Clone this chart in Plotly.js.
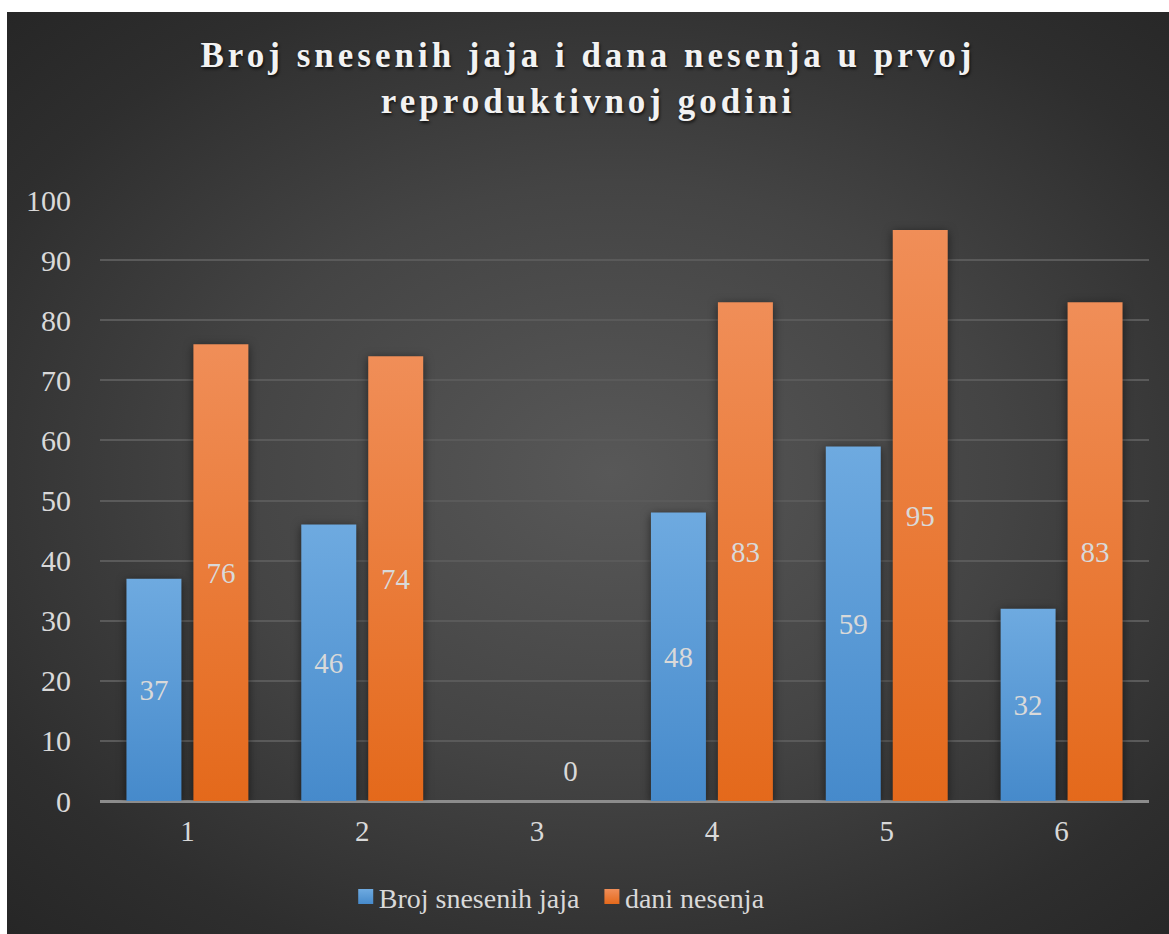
<!DOCTYPE html>
<html>
<head>
<meta charset="utf-8">
<script src="https://cdn.plot.ly/plotly-3.0.1.min.js"></script>
<style>
  html, body { margin: 0; padding: 0; background: #ffffff; }
  #chart {
    position: absolute; left: 7px; top: 12px; width: 1162px; height: 922px;
    background: radial-gradient(ellipse 75% 70% at 52% 50%, #585858 0%, #444444 45%, #2e2e2e 80%, #262626 100%);
  }
  #chart .gtitle { letter-spacing: 4px; }
  #chart .trace.bars .point path { filter: drop-shadow(0px 2px 5px rgba(0,0,0,0.55)); }
</style>
</head>
<body>
<div id="chart"></div>
<script>
const categories = ['1', '2', '3', '4', '5', '6'];
const eggsLaid = [37, 46, null, 48, 59, 32];
const layingDays = [76, 74, 0, 83, 95, 83];
const seriesNames = ['Broj snesenih jaja', 'dani nesenja'];
const chartTitle = 'Broj snesenih jaja i dana nesenja u prvoj<br>reproduktivnoj godini';

const serif = 'Liberation Serif';
const labelFont = {family: serif, size: 29, color: '#d9d9d9'};

const traces = [
  {
    type: 'bar', name: seriesNames[0], x: categories, y: eggsLaid,
    marker: {color: '#5a9ad8'},
    text: eggsLaid.map(v => v === null ? '' : String(v)),
    textposition: 'inside', insidetextanchor: 'middle',
    textfont: labelFont, insidetextfont: labelFont,
    hoverinfo: 'x+y+name', cliponaxis: false
  },
  {
    type: 'bar', name: seriesNames[1], x: categories, y: layingDays,
    marker: {color: '#ec7a2c'},
    text: layingDays.map(v => String(v)),
    textposition: layingDays.map(v => v === 0 ? 'outside' : 'inside'),
    insidetextanchor: 'middle',
    textfont: labelFont, insidetextfont: labelFont, outsidetextfont: labelFont,
    hoverinfo: 'x+y+name', cliponaxis: false
  }
];

const layout = {
  width: 1162, height: 922,
  paper_bgcolor: 'rgba(0,0,0,0)', plot_bgcolor: 'rgba(0,0,0,0)',
  margin: {l: 93, r: 20, t: 188, b: 133},
  title: {
    text: chartTitle,
    font: {family: serif, size: 35, color: '#f2f2f2', weight: 'bold', shadow: '1px 2px 3px rgba(0,0,0,0.7)'},
    x: 0.5, xanchor: 'center', y: 0.94, yanchor: 'top', yref: 'container'
  },
  barmode: 'group', bargap: 0.234, bargroupgap: 0.179,
  xaxis: {
    type: 'category', showgrid: false, zeroline: false,
    showline: false, ticks: '', ticklabelstandoff: 10,
    tickfont: {family: serif, size: 29, color: '#d9d9d9'}
  },
  yaxis: {
    range: [0, 100], dtick: 10, tick0: 0,
    showgrid: true, gridcolor: '#5a5a5a', gridwidth: 1.5,
    zeroline: true, zerolinecolor: '#8c8c8c', zerolinewidth: 3,
    showline: false, ticks: '', ticklabelstandoff: 28,
    tickfont: {family: serif, size: 30, color: '#d9d9d9'}
  },
  legend: {
    orientation: 'h', x: 0.433, xanchor: 'center', y: -0.118, yanchor: 'top',
    font: {family: serif, size: 28, color: '#d9d9d9'},
    itemwidth: 30, traceorder: 'normal', bgcolor: 'rgba(0,0,0,0)'
  },
  showlegend: true
};

Plotly.newPlot('chart', traces, layout, {displayModeBar: false}).then(gd => {
  const svg = gd.querySelector('.main-svg');
  const ns = 'http://www.w3.org/2000/svg';
  let defs = svg.querySelector('defs');
  if (!defs) { defs = document.createElementNS(ns, 'defs'); svg.insertBefore(defs, svg.firstChild); }
  function grad(id, top, bottom) {
    const g = document.createElementNS(ns, 'linearGradient');
    g.setAttribute('id', id);
    g.setAttribute('x1', '0'); g.setAttribute('y1', '0');
    g.setAttribute('x2', '0'); g.setAttribute('y2', '1');
    [[0, top], [1, bottom]].forEach(([o, c]) => {
      const s = document.createElementNS(ns, 'stop');
      s.setAttribute('offset', o); s.setAttribute('stop-color', c);
      g.appendChild(s);
    });
    defs.appendChild(g);
  }
  grad('gradBlue', '#6eaae0', '#468acb');
  grad('gradOrange', '#f08e58', '#e4691b');
  const ids = ['gradBlue', 'gradOrange'];
  gd.querySelectorAll('.trace.bars').forEach((t, i) => {
    t.querySelectorAll('.point path').forEach(p => { p.style.fill = 'url(#' + ids[i] + ')'; });
  });
  // lift the outside zero label a little, as in the reference
  const orangeTexts = gd.querySelectorAll('.trace.bars')[1].querySelectorAll('.point text');
  layingDays.forEach((v, i) => {
    if (v === 0 && orangeTexts[i]) {
      const tr = orangeTexts[i].getAttribute('transform') || '';
      orangeTexts[i].setAttribute('transform', 'translate(0,-11) ' + tr);
    }
  });
  // legend swatches: slightly bigger squares closer to the text
  gd.querySelectorAll('.legend .traces').forEach((tr, i) => {
    tr.querySelectorAll('.legendpoints path').forEach(p => {
      p.setAttribute('d', 'M7.5,7.5H-7.5V-7.5H7.5Z');
      p.setAttribute('transform', 'translate(27,0)');
      if (ids[i]) p.style.fill = 'url(#' + ids[i] + ')';
      p.style.stroke = 'none';
    });
  });
});
</script>
</body>
</html>
